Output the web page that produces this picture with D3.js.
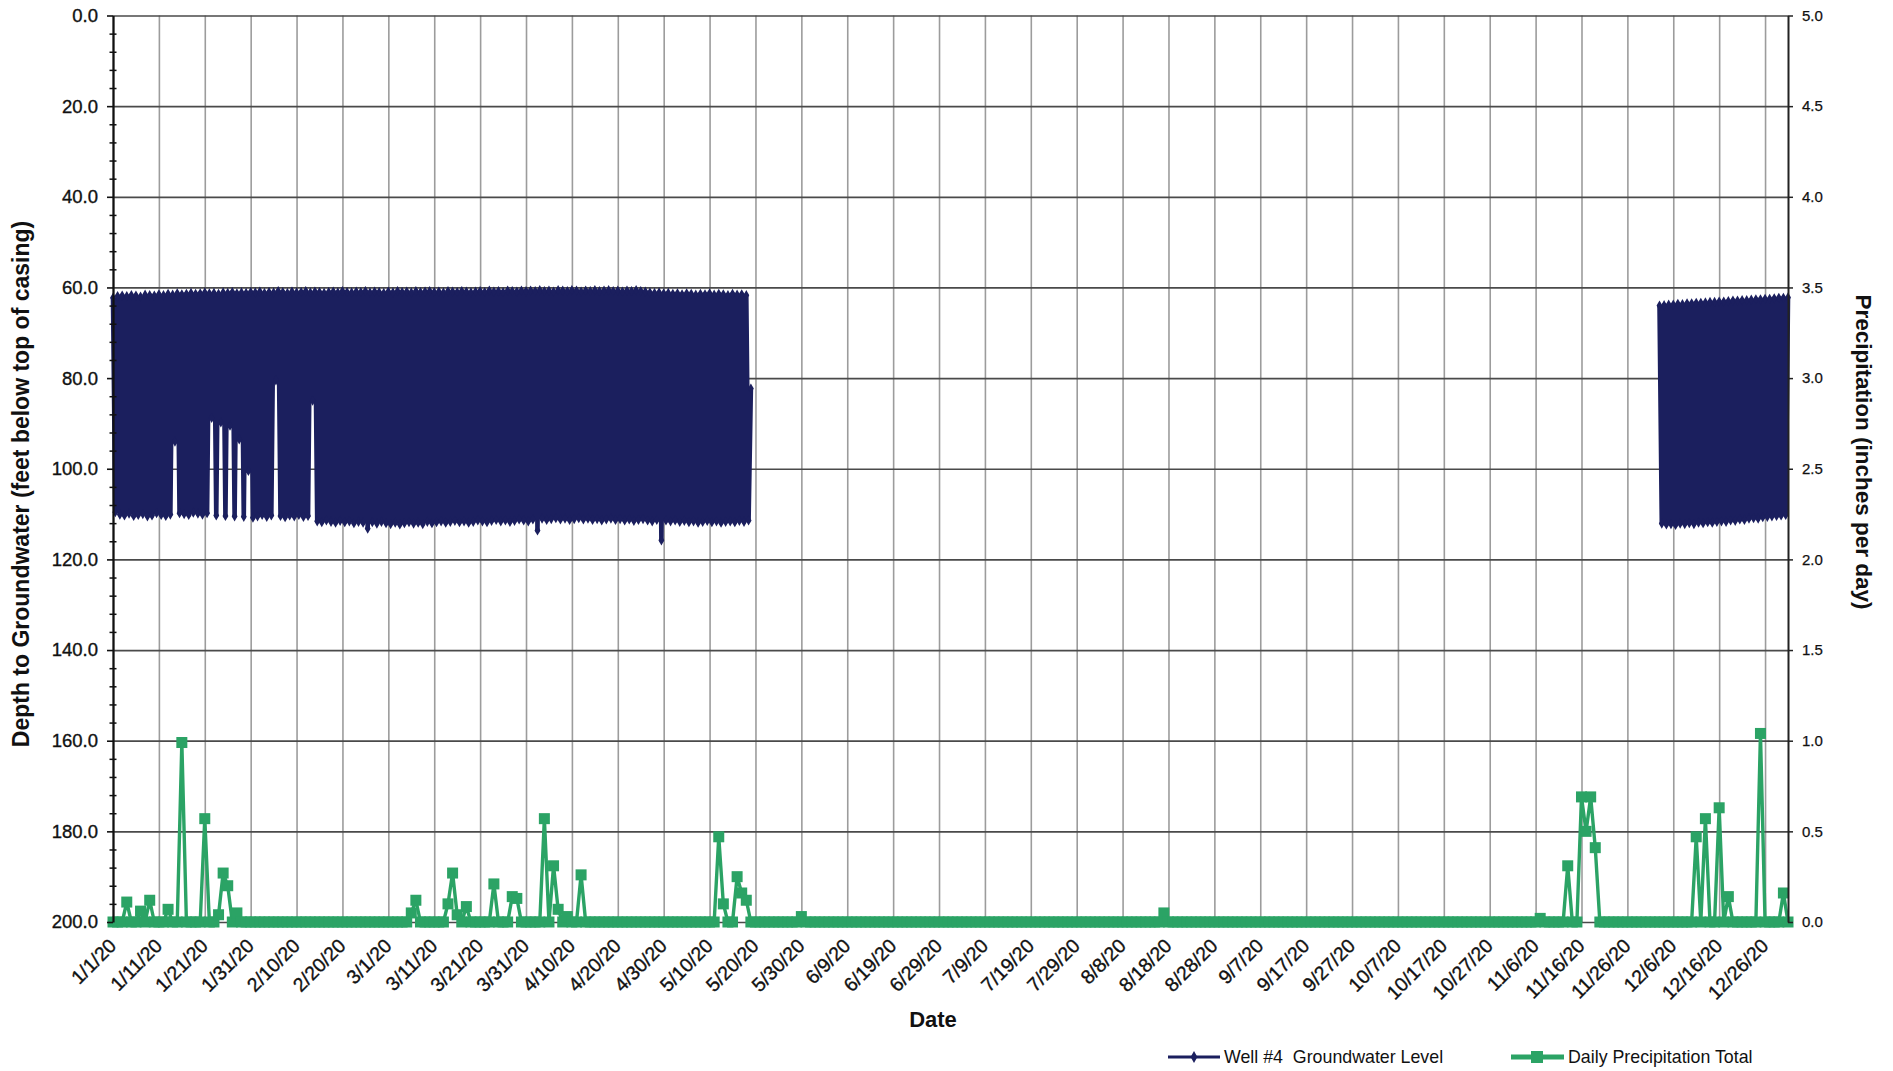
<!DOCTYPE html>
<html>
<head>
<meta charset="utf-8">
<script src="https://cdn.jsdelivr.net/npm/d3@7"></script>
<style>
  html, body { margin: 0; padding: 0; background: #fff; }
  svg { display: block; font-family: "Liberation Sans", Arial, sans-serif; }
</style>
</head>
<body>
<svg id="chart" width="1893" height="1071"></svg>
<script>
// ---- Daily precipitation totals, 2020 (inches) ----
const precipJan = [0,0,0,0.11,0,0,0.06,0,0.12,0, 0,0,0.07,0,0,0.99,0,0,0,0, 0.57,0,0,0.04,0.27,0.20,0,0.05,0,0, 0];
const precipFeb = [0,0,0,0,0,0,0,0,0,0, 0,0,0,0,0,0,0,0,0,0, 0,0,0,0,0,0,0,0,0];
const precipMar = [0,0,0,0,0,0.05,0.12,0,0,0, 0,0,0,0.10,0.27,0.04,0,0.085,0,0, 0,0,0,0.21,0,0,0,0.14,0.13,0, 0];
const precipApr = [0,0,0,0.57,0,0.31,0.07,0,0.03,0, 0,0.26,0,0,0,0,0,0,0,0, 0,0,0,0,0,0,0,0,0,0];
const precipMay = [0,0,0,0,0,0,0,0,0,0, 0,0.47,0.10,0,0,0.25,0.16,0.12,0,0, 0,0,0,0,0,0,0,0,0,0.03, 0];
const precipJun = [0,0,0,0,0,0,0,0,0,0, 0,0,0,0,0,0,0,0,0,0, 0,0,0,0,0,0,0,0,0,0];
const precipJul = [0,0,0,0,0,0,0,0,0,0, 0,0,0,0,0,0,0,0,0,0, 0,0,0,0,0,0,0,0,0,0, 0];
const precipAug = [0,0,0,0,0,0,0,0,0,0, 0,0,0,0,0,0,0.05,0,0,0, 0,0,0,0,0,0,0,0,0,0, 0];
const precipSep = [0,0,0,0,0,0,0,0,0,0, 0,0,0,0,0,0,0,0,0,0, 0,0,0,0,0,0,0,0,0,0];
const precipOct = [0,0,0,0,0,0,0,0,0,0, 0,0,0,0,0,0,0,0,0,0, 0,0,0,0,0,0,0,0,0,0, 0];
const precipNov = [0,0,0,0,0,0,0.02,0,0,0, 0,0,0.31,0,0,0.69,0.50,0.69,0.41,0, 0,0,0,0,0,0,0,0,0,0];
const precipDec = [0,0,0,0,0,0,0,0,0,0, 0.47,0,0.57,0,0,0.63,0,0.14,0,0, 0,0,0,0,1.04,0,0,0,0,0.16, 0];

// ---- Well #4 depth to groundwater (ft below top of casing) ----
// Each day: a recovered (shallow) reading at midnight and a pumping (deep) reading at noon.
const wellHighJan = [62.3,61.9,61.8,61.9,61.7,61.8,62.0,61.6,61.7,61.8, 61.5,61.7,61.4,61.6,61.3,61.5,61.4,61.2,61.4,61.3, 61.1,61.3,61.2,61.4,61.1,61.2,61.0,61.3,61.1,61.2, 61.0];
const wellLowJan  = [109.6,110.1,110.3,109.9,110.4,110.2,110.0,110.5,110.3,109.8, 110.2,110.4,110.1,94.0,109.8,110.0,110.2,109.7,109.9,110.1, 109.8,88.8,110.3,89.8,110.4,90.5,110.5,93.5,110.6,100.5, 110.8];
const wellHighFeb = [61.1,60.9,61.2,61.0,61.1,60.8,61.0,61.2,60.9,61.1, 61.0,60.8,61.1,60.9,61.0,61.2,61.0,60.9,61.1,60.8, 61.0,61.1,60.9,61.0,60.8,61.1,60.9,61.0,61.2];
const wellLowFeb  = [110.5,110.2,110.6,110.3,80.5,110.4,110.7,110.3,110.5,110.2, 110.6,110.4,85.0,111.6,111.8,111.4,111.7,111.9,111.5,111.8, 111.6,112.0,111.7,111.9,113.2,111.8,112.1,111.7,112.0];
const wellHighMar = [60.9,61.1,60.8,61.0,60.9,61.1,60.8,61.0,60.9,60.8, 61.0,60.9,61.1,60.8,60.9,61.0,60.8,60.9,61.1,60.9, 60.8,61.0,60.7,60.9,60.8,61.0,60.7,60.8,60.9,60.7, 60.8];
const wellLowMar  = [112.2,111.9,112.3,112.0,111.8,112.1,111.9,112.2,111.7,112.0, 111.8,111.6,111.9,111.7,111.5,111.8,111.6,111.9,111.7,111.4, 111.6,111.8,111.5,111.3,111.6,111.4,111.7,111.5,111.2,111.4, 111.6];
const wellHighApr = [60.7,60.8,60.6,60.8,60.7,60.9,60.6,60.7,60.8,60.6, 60.7,60.9,60.7,60.8,60.6,60.8,60.7,60.6,60.8,60.7, 60.9,60.7,60.8,60.6,60.8,60.9,61.1,61.2,61.1,61.3];
const wellLowApr  = [111.2,113.6,111.0,111.3,111.1,110.9,111.2,111.0,111.3,111.1, 110.9,111.2,111.0,111.3,111.1,111.4,111.2,111.0,111.3,111.1, 111.4,111.2,111.5,111.3,111.1,111.4,111.6,111.3,115.8,111.4];
const wellHighMay = [61.2,61.4,61.3,61.5,61.3,61.4,61.6,61.4,61.5,61.3, 61.6,61.4,61.5,61.7,61.4,61.6,61.5,61.7,82.3];
const wellLowMay  = [111.6,111.4,111.7,111.5,111.8,111.6,111.9,111.7,111.5,111.8, 111.6,111.9,111.7,111.6,111.8,111.5,111.7,111.4];
const wellHighDec = [64.0,63.9,63.8,63.8,63.6,63.7,63.5,63.5,63.4,63.4, 63.3,63.2,63.2,63.1,63.1,63.0,62.9,62.9,62.8,62.8, 62.7,62.6,62.6,62.5,62.5,62.4,62.3,62.3,62.2];
const wellLowDec  = [112.1,112.3,112.2,112.4,112.1,112.2,112.0,112.2,111.9,112.0, 111.8,111.9,111.7,111.6,111.7,111.4,111.5,111.2,111.3,111.0, 110.9,111.0,110.7,110.6,110.5,110.4,110.3,110.2];

// ---- Axis settings ----
const depthTicks = [0, 20, 40, 60, 80, 100, 120, 140, 160, 180, 200];
const precipTicks = [0, 0.5, 1.0, 1.5, 2.0, 2.5, 3.0, 3.5, 4.0, 4.5, 5.0];
const dateTickOffsets = [0,10,20,30,40,50,60,70,80,90,100,110,120,130,140,150,160,170,180,190,200,210,220,230,240,250,260,270,280,290,300,310,320,330,340,350,360];

const NAVY = "#1b1f5e";
const GREEN = "#2ba365";

const svg = d3.select("#chart");
const X0 = 113, X1 = 1788, Y0 = 15.5, Y1 = 922;

const yearStart = new Date(2020, 0, 1);
const x = d3.scaleTime().domain([yearStart, new Date(2020, 11, 31)]).range([X0, X1]);
const yL = d3.scaleLinear().domain([0, 200]).range([Y0, Y1]);
const yR = d3.scaleLinear().domain([0, 5]).range([Y1, Y0]);

const dateTicks = dateTickOffsets.map(d => d3.timeDay.offset(yearStart, d));
const fmtDate = d3.timeFormat("%-m/%-d/%y");

// ---- Build series ----
const parseDay = d3.timeParse("%Y-%m-%d");
function wellReadings(startStr, highs, lows) {
  const start = parseDay(startStr);
  const out = [];
  highs.forEach((h, i) => {
    const day = d3.timeDay.offset(start, i);
    out.push({ t: day, v: h });
    if (i < lows.length) out.push({ t: d3.timeHour.offset(day, 12), v: lows[i] });
  });
  return out;
}
const wellSpring = [].concat(
  wellReadings("2020-01-01", wellHighJan, wellLowJan),
  wellReadings("2020-02-01", wellHighFeb, wellLowFeb),
  wellReadings("2020-03-01", wellHighMar, wellLowMar),
  wellReadings("2020-04-01", wellHighApr, wellLowApr),
  wellReadings("2020-05-01", wellHighMay, wellLowMay)
);
const wellWinter = wellReadings("2020-12-03", wellHighDec, wellLowDec);

const precipMonths = [precipJan, precipFeb, precipMar, precipApr, precipMay, precipJun,
                      precipJul, precipAug, precipSep, precipOct, precipNov, precipDec];
const precip = [];
precipMonths.forEach((arr, m) => arr.forEach((v, i) => precip.push({ t: new Date(2020, m, i + 1), v })));

// ---- Gridlines ----
const gridV = svg.append("g").attr("transform", `translate(0,${Y1})`)
  .call(d3.axisBottom(x).tickValues(dateTicks).tickSize(-(Y1 - Y0)).tickFormat(""));
gridV.select(".domain").remove();
gridV.selectAll(".tick line").attr("stroke", "#9c9c9c").attr("stroke-width", 1.6);

const gridH = svg.append("g").attr("transform", `translate(${X0},0)`)
  .call(d3.axisLeft(yL).tickValues(depthTicks).tickSize(-(X1 - X0)).tickFormat(""));
gridH.select(".domain").remove();
gridH.selectAll(".tick line").attr("stroke", "#4a4a4a").attr("stroke-width", 1.7);

// ---- Groundwater level ----
const wellLine = d3.line().x(d => x(d.t)).y(d => yL(d.v));
const diamond = d3.symbol(d3.symbolDiamond, 30);
[wellSpring, wellWinter].forEach(series => {
  svg.append("path").datum(series)
    .attr("d", wellLine).attr("fill", "none")
    .attr("stroke", NAVY).attr("stroke-width", 4.6).attr("stroke-linejoin", "round");
  svg.append("g").selectAll("path").data(series).join("path")
    .attr("transform", d => `translate(${x(d.t)},${yL(d.v)})`)
    .attr("d", diamond).attr("fill", NAVY);
});

// ---- Precipitation ----
const rainLine = d3.line().x(d => x(d.t)).y(d => yR(d.v));
svg.append("path").datum(precip)
  .attr("d", rainLine).attr("fill", "none")
  .attr("stroke", GREEN).attr("stroke-width", 3.4).attr("stroke-linejoin", "round");
svg.append("g").selectAll("rect").data(precip).join("rect")
  .attr("x", d => x(d.t) - 5.5).attr("y", d => yR(d.v) - 5.5)
  .attr("width", 11).attr("height", 11).attr("fill", GREEN);

// ---- Axes ----
const axL = svg.append("g").attr("transform", `translate(${X0},0)`)
  .call(d3.axisLeft(yL).tickValues(depthTicks).tickFormat(d3.format(".1f"))
    .tickSizeInner(6).tickSizeOuter(0).tickPadding(9));
axL.select(".domain").attr("stroke", "#111").attr("stroke-width", 2.2);
axL.selectAll(".tick line").attr("stroke", "#111").attr("stroke-width", 1.6);
axL.selectAll("text").attr("font-size", 18.5).attr("fill", "#111")
  .attr("stroke", "#111").attr("stroke-width", 0.35);

const minorDepth = d3.range(0, 201, 4).filter(v => v % 20 !== 0);
const axMinor = svg.append("g").attr("transform", `translate(${X0 + 3.5},0)`)
  .call(d3.axisLeft(yL).tickValues(minorDepth).tickSize(7).tickFormat(""));
axMinor.select(".domain").remove();
axMinor.selectAll(".tick line").attr("stroke", "#111").attr("stroke-width", 1.5);

const axR = svg.append("g").attr("transform", `translate(${X1},0)`)
  .call(d3.axisRight(yR).tickValues(precipTicks).tickFormat(d3.format(".1f"))
    .tickSizeInner(5).tickSizeOuter(0).tickPadding(9));
axR.select(".domain").attr("stroke", "#222").attr("stroke-width", 2);
axR.selectAll(".tick line").attr("stroke", "#222").attr("stroke-width", 1.5);
axR.selectAll("text").attr("font-size", 15).attr("fill", "#111")
  .attr("stroke", "#111").attr("stroke-width", 0.25);

const axB = svg.append("g").attr("transform", `translate(0,${Y1})`)
  .call(d3.axisBottom(x).tickValues(dateTicks).tickFormat(fmtDate).tickSize(0).tickPadding(0));
axB.select(".domain").remove();
axB.selectAll("text")
  .attr("y", 0).attr("dy", 0).attr("x", 0)
  .attr("text-anchor", "end")
  .attr("transform", "translate(4,25) rotate(-45)")
  .attr("font-size", 19.5).attr("fill", "#111")
  .attr("stroke", "#111").attr("stroke-width", 0.35);

// ---- Titles ----
svg.append("text").attr("x", 933).attr("y", 1027).attr("text-anchor", "middle")
  .attr("font-size", 22).attr("font-weight", "bold").attr("fill", "#111").text("Date");

svg.append("text").attr("transform", "translate(29,484) rotate(-90)").attr("text-anchor", "middle")
  .attr("font-size", 23).attr("font-weight", "bold").attr("fill", "#111")
  .text("Depth to Groundwater (feet below top of casing)");

svg.append("text").attr("transform", "translate(1856,452) rotate(90)").attr("text-anchor", "middle")
  .attr("font-size", 22.5).attr("font-weight", "bold").attr("fill", "#111")
  .text("Precipitation (inches per day)");

// ---- Legend ----
const legY = 1057;
const leg = svg.append("g");
leg.append("line").attr("x1", 1168).attr("x2", 1220).attr("y1", legY).attr("y2", legY)
  .attr("stroke", NAVY).attr("stroke-width", 3);
leg.append("path").attr("transform", `translate(1194,${legY})`).attr("d", d3.symbol(d3.symbolDiamond, 40)).attr("fill", NAVY);
leg.append("text").attr("x", 1224).attr("y", legY + 6).attr("font-size", 17.8).attr("fill", "#111")
  .style("white-space", "pre")
  .text("Well #4  Groundwater Level");
leg.append("line").attr("x1", 1511).attr("x2", 1564).attr("y1", legY).attr("y2", legY)
  .attr("stroke", GREEN).attr("stroke-width", 5);
leg.append("rect").attr("x", 1531).attr("y", legY - 6).attr("width", 12).attr("height", 12).attr("fill", GREEN);
leg.append("text").attr("x", 1568).attr("y", legY + 6).attr("font-size", 17.8).attr("fill", "#111")
  .text("Daily Precipitation Total");
</script>
</body>
</html>
